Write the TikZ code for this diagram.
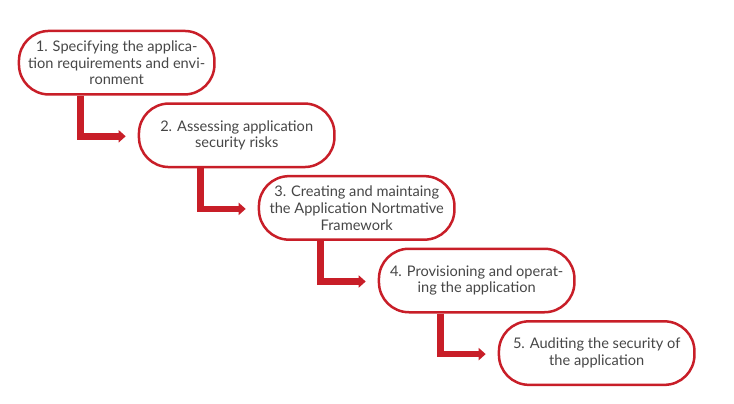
\documentclass[tikz,border=0pt]{standalone}
\usepackage{fontspec}
\setmainfont{Lato}
\usetikzlibrary{arrows.meta}
\definecolor{stepred}{RGB}{200,30,40}
\definecolor{steptext}{RGB}{70,70,70}
\tikzset{
  stepbox/.style={draw=stepred, line width=2.5pt, rounded corners=30pt,
    minimum width=195.5pt, minimum height=63.5pt, inner sep=0pt,
    align=center, text=steptext, font=\fontsize{14.6}{16.8}\selectfont},
  flow/.style={draw=stepred, line width=6.5pt,
    -{Triangle[width=12pt,length=7pt]}}
}
\begin{document}
\begin{tikzpicture}[x=1pt, y=-1pt]
\useasboundingbox (0,0) rectangle (734,404);
\foreach \i/\txt in {1/{1. Specifying the applica-\\tion requirements and envi-\\ronment},
                     2/{2. Assessing application\\security risks},
                     3/{3. Creating and maintaing\\the Application Nortmative\\Framework},
                     4/{4. Provisioning and operat-\\ing the application},
                     5/{5. Auditing the security of\\the application}}
{
    \node[stepbox] (b\i) at ({116.7+120*(\i-1)}, {62.7+72.6*(\i-1)}) {\txt};
}

\foreach \i [evaluate=\i as \j using int(\i+1)] in {1,...,4}
{
    \draw[flow] ([xshift=-36pt]b\i.south) |- ([xshift=-12pt, yshift=-1pt]b\j.west);
}
\end{tikzpicture}
\end{document}
